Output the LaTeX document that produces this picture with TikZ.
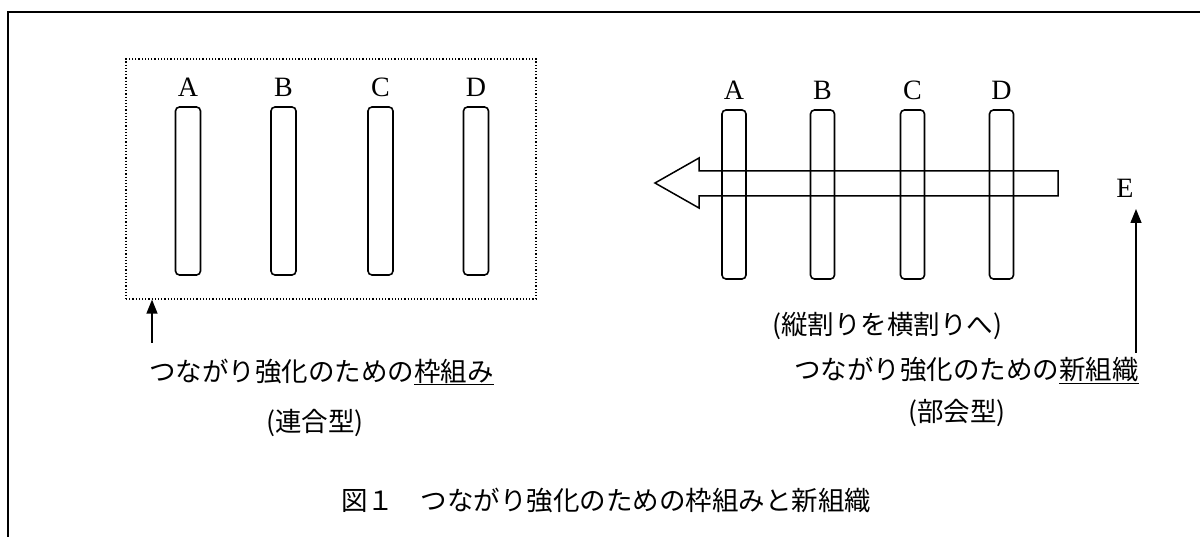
\documentclass[tikz,border=0pt]{standalone}
\usepackage{fontspec}
\setmainfont{Liberation Serif}
\newfontfamily\jp{Noto Sans CJK JP}
\usetikzlibrary{arrows.meta}
\begin{document}
\begin{tikzpicture}[x=1pt,y=-1pt,
  bar/.style={draw,line width=1.6pt,rounded corners=4pt,minimum width=25pt,minimum height=168pt,inner sep=0pt},
  lett/.style={font=\fontsize{28}{30}\selectfont,inner sep=0pt},
  jtxt/.style={font=\jp\fontsize{26.5}{30}\selectfont,inner sep=0pt},
  pointer/.style={line width=1.4pt,-{Triangle[width=11pt,length=14pt]}}]
\useasboundingbox (0,0) rectangle (1200,537);
% outer frame
\draw[line width=2pt] (8,537) -- (8,12) -- (1200,12);
% left group
\node[draw,dotted,line width=1.2pt,minimum width=410pt,minimum height=240pt,inner sep=0pt] (frame) at (331,179) {};
\foreach \n/\x in {A/188,B/283.5,C/380.5,D/476}{
  \node[bar] (L\n) at (\x,191) {};
  \node[lett] (LT\n) at (\x,87) {\n};
}
\coordinate (lp) at (152,343);
\draw[pointer] (lp) -- (lp |- frame.south);
\node[jtxt,anchor=west] (t1) at (149,372) {つながり強化のための\underline{枠組み}};
\node[jtxt] (t2) at (315,423) {(連合型)};
% right group
\foreach \n/\x in {A/734,B/822.5,C/912.5,D/1001.5}{
  \node[bar,minimum width=24pt,minimum height=169pt] (R\n) at (\x,194.5) {};
  \node[lett] (RT\n) at (\x,90) {\n};
}
\draw[line width=1.5pt,line join=miter] (1058,171) -- (699,171) -- (699,158) -- (655,183) -- (699,208) -- (699,196) -- (1058,196) -- cycle;
\node[lett] (E) at (1125,188) {E};
\coordinate (rp) at (1136,353);
\draw[pointer] (rp) -- (1136,209);
\node[jtxt] (t3) at (887,326) {(縦割りを横割りへ)};
\node[jtxt,anchor=east] (t4) at (1139,370) {つながり強化のための\underline{新組織}};
\node[jtxt] (t5) at (957,413) {(部会型)};
% caption
\node[jtxt] (cap) at (606,500) {図１　つながり強化のための枠組みと新組織};
\end{tikzpicture}
\end{document}
